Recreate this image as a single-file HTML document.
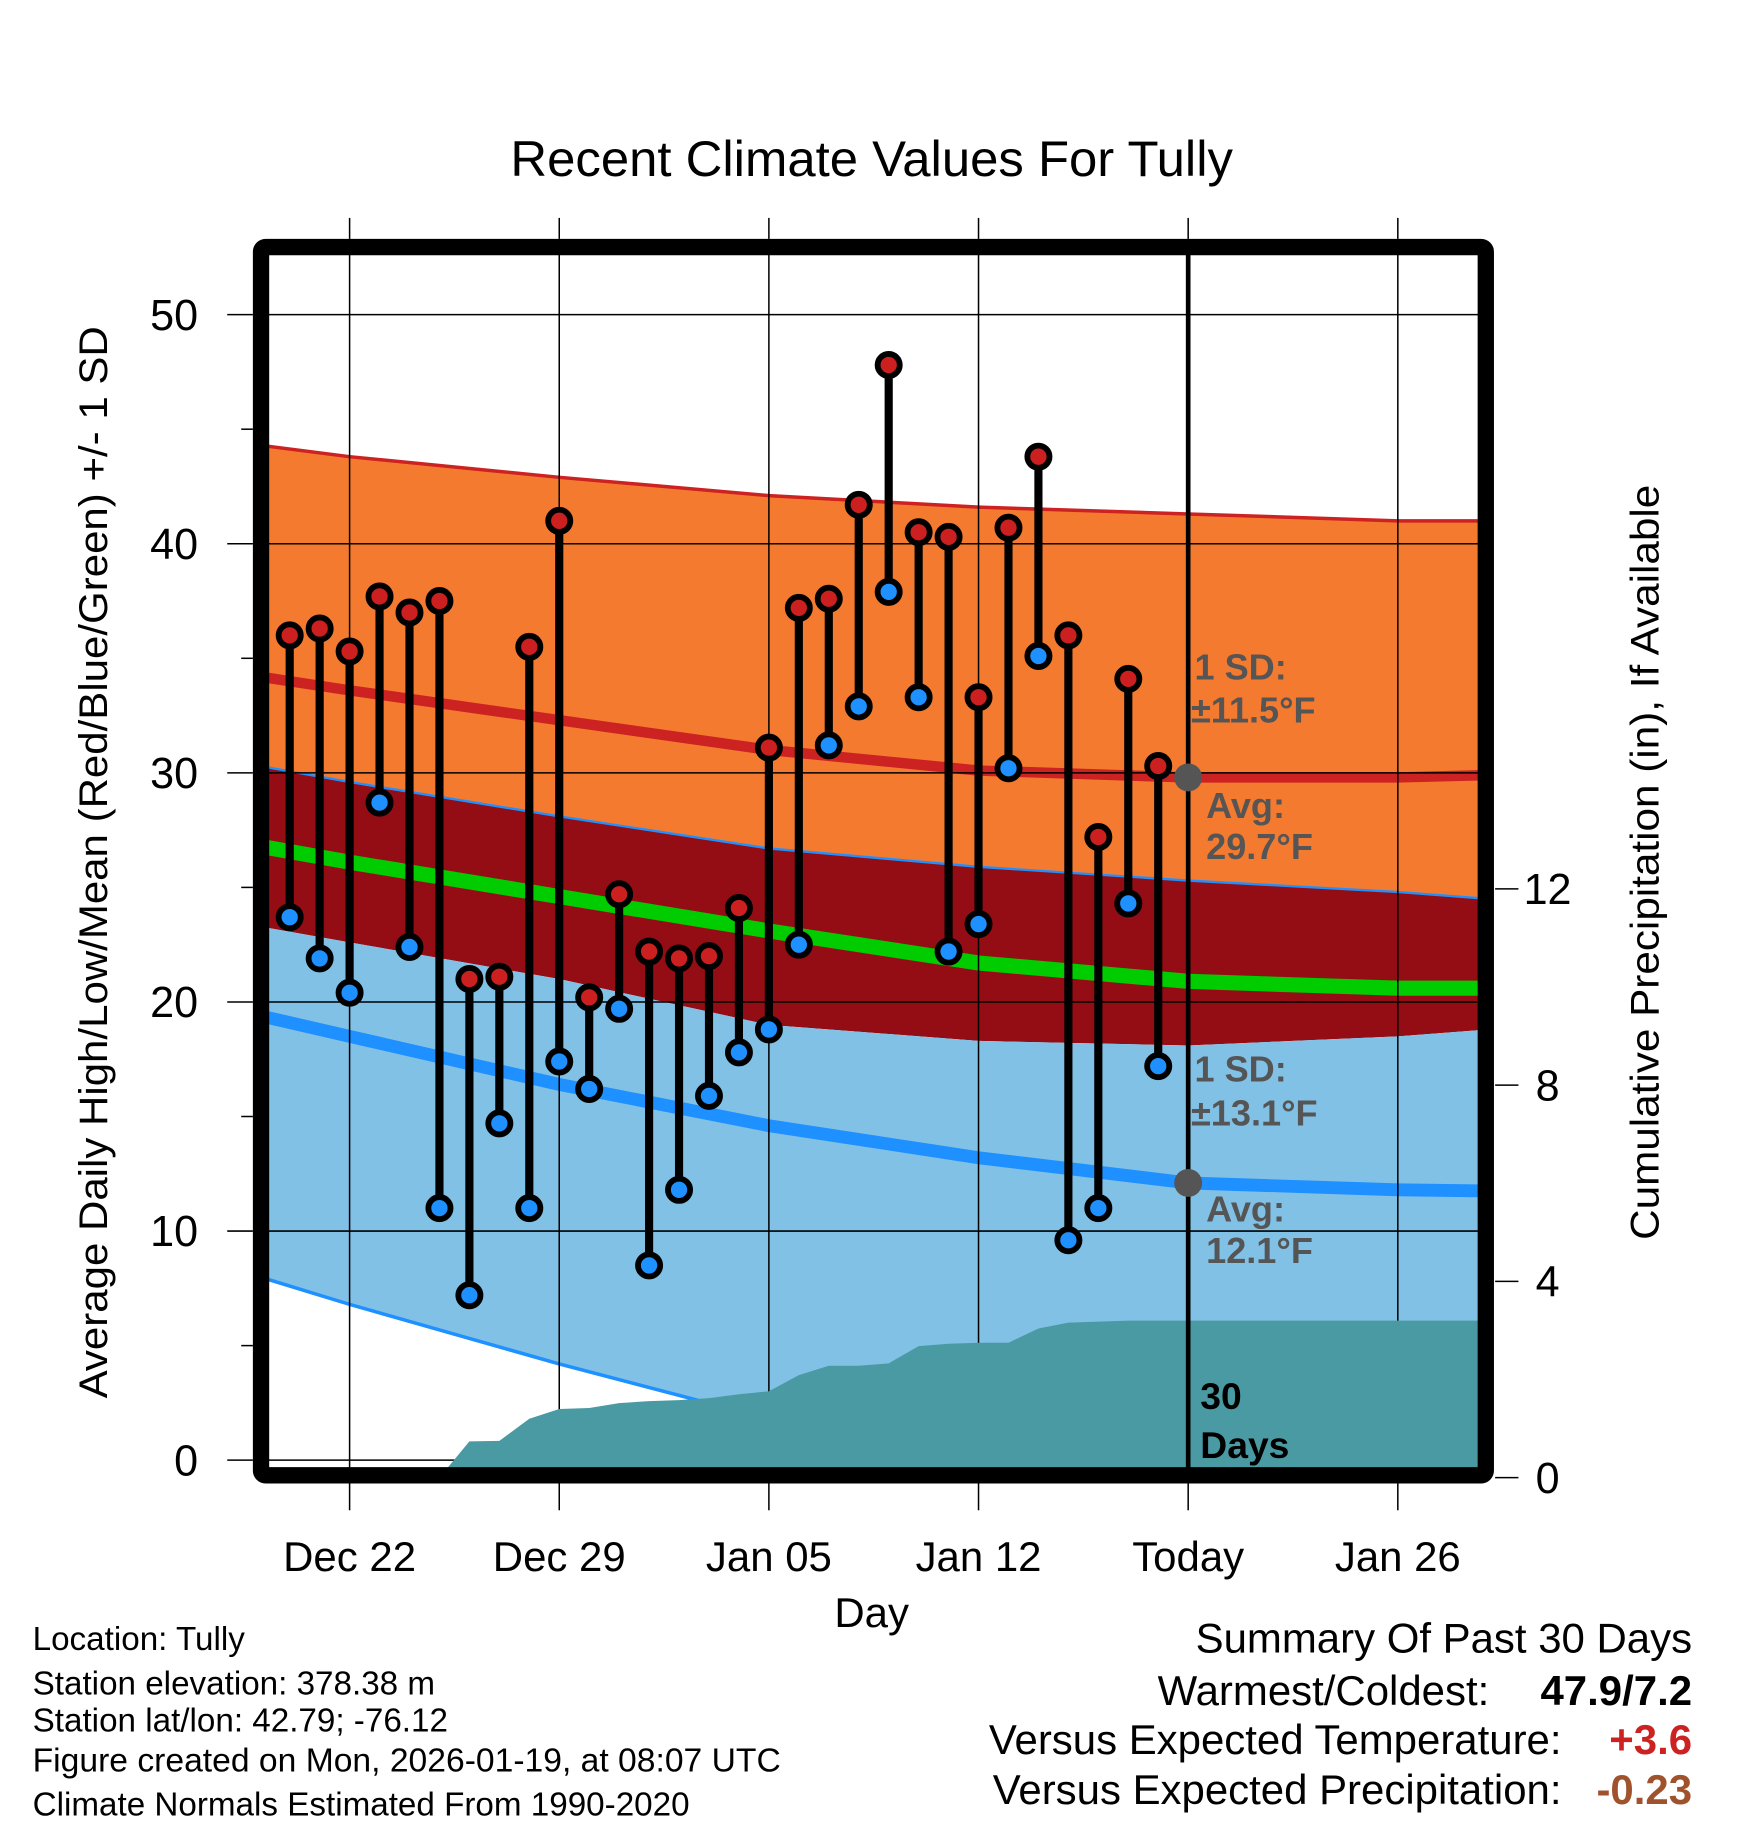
<!DOCTYPE html>
<html><head><meta charset="utf-8"><style>
html,body{margin:0;padding:0;background:#fff;}
svg{display:block;font-family:"Liberation Sans",sans-serif;}
</style></head><body>
<svg id="chart" width="1748" height="1828" viewBox="0 0 1500 1568.65" xmlns="http://www.w3.org/2000/svg">
<defs><clipPath id="plotclip"><rect x="224" y="212" width="1051" height="1054"/></clipPath></defs>
<text x="748" y="151" font-size="43" text-anchor="middle" textLength="620" lengthAdjust="spacingAndGlyphs">Recent Climate Values For Tully</text>
<g id="plot" clip-path="url(#plotclip)"></g>
<g id="axes"></g>
<text transform="translate(92,740) rotate(-90)" font-size="34" text-anchor="middle" textLength="920" lengthAdjust="spacingAndGlyphs">Average Daily High/Low/Mean (Red/Blue/Green) +/- 1 SD</text>
<text transform="translate(1423,740) rotate(-90)" font-size="34" text-anchor="middle" textLength="648" lengthAdjust="spacingAndGlyphs">Cumulative Precipitation (in), If Available</text>
<text x="748" y="1396" font-size="36" text-anchor="middle">Day</text>
<g font-size="31" font-weight="bold" fill="#555">
<text x="1025" y="583">1 SD:</text><text x="1022" y="620">±11.5°F</text>
<text x="1035" y="702">Avg:</text><text x="1035" y="737">29.7°F</text>
<text x="1025" y="928">1 SD:</text><text x="1022" y="966">±13.1°F</text>
<text x="1035" y="1048">Avg:</text><text x="1035" y="1084">12.1°F</text>
</g>
<g font-size="32" font-weight="bold" fill="#000">
<text x="1030" y="1209">30</text><text x="1030" y="1251">Days</text>
</g>
<g font-size="28.5">
<text x="28" y="1416">Location: Tully</text>
<text x="28" y="1454">Station elevation: 378.38 m</text>
<text x="28" y="1486">Station lat/lon: 42.79; -76.12</text>
<text x="28" y="1520" textLength="642" lengthAdjust="spacingAndGlyphs">Figure created on Mon, 2026-01-19, at 08:07 UTC</text>
<text x="28" y="1558">Climate Normals Estimated From 1990-2020</text>
</g>
<g font-size="36">
<text x="1452" y="1418" text-anchor="end">Summary Of Past 30 Days</text>
<text x="1278" y="1463" text-anchor="end">Warmest/Coldest:</text>
<text x="1452" y="1463" text-anchor="end" font-weight="bold">47.9/7.2</text>
<text x="1340" y="1505" text-anchor="end">Versus Expected Temperature:</text>
<text x="1452" y="1505" text-anchor="end" font-weight="bold" fill="#cc2222">+3.6</text>
<text x="1340" y="1548" text-anchor="end">Versus Expected Precipitation:</text>
<text x="1452" y="1548" text-anchor="end" font-weight="bold" fill="#a0522d">-0.23</text>
</g>
</svg>
<script>
// observed data, day index relative to Dec 22 (day 0); Today = day 28
const obsDays = [-2,-1,0,1,2,3,4,5,6,7,8,9,10,11,12,13,14,15,16,17,18,19,20,21,22,23,24,25,26,27];
const highs = [36.0,36.3,35.3,37.7,37.0,37.5,21.0,21.1,35.5,41.0,20.2,24.7,22.2,21.9,22.0,24.1,31.1,37.2,37.6,41.7,47.8,40.5,40.3,33.3,40.7,43.8,36.0,27.2,34.1,30.3];
const lows = [23.7,21.9,20.4,28.7,22.4,11.0,7.2,14.7,11.0,17.4,16.2,19.7,8.5,11.8,15.9,17.8,18.8,22.5,31.2,32.9,37.9,33.3,22.2,23.4,30.2,35.1,9.6,11.0,24.3,17.2];
const precip = [0,0,0,0,0,0,0.74,0.75,1.2,1.4,1.42,1.52,1.56,1.58,1.62,1.7,1.76,2.09,2.28,2.28,2.33,2.68,2.73,2.75,2.75,3.04,3.16,3.18,3.2,3.2];
// climate normals
const normDays = [-3,0,7,14,21,28,35,38];
const highPlusSD = [44.3,43.8,42.9,42.1,41.6,41.3,41.0,41.0];
const highMean = [34.2,33.6,32.3,31.0,30.1,29.8,29.8,29.9];
const highMinusSD = [30.3,29.6,28.1,26.7,25.9,25.3,24.8,24.5];
const meanTemp = [26.8,26.1,24.6,23.1,21.7,20.9,20.6,20.6];
const lowPlusSD = [23.3,22.6,21.0,19.0,18.3,18.1,18.5,18.8];
const lowMean = [19.4,18.5,16.4,14.6,13.2,12.1,11.8,11.75];
const lowMinusSD = [8.0,6.8,4.2,1.8,-0.3,-1.0,-1.4,-1.6];
const yTicks = [0,10,20,30,40,50];
const xTickDays = [0,7,14,21,28,35];
const xTickLabels = ["Dec 22","Dec 29","Jan 05","Jan 12","Today","Jan 26"];
const pTicks = [0,4,8,12];
const todayDay = 28;

const NS="http://www.w3.org/2000/svg";
const X = d => 300 + d*25.7;
const Y = v => 1253 - v*19.66;
const P = p => 1268 - p*42.1;
const plot=document.getElementById('plot'), axes=document.getElementById('axes');
function mk(parent,tag,attrs){const e=document.createElementNS(NS,tag);for(const k in attrs)e.setAttribute(k,attrs[k]);parent.appendChild(e);return e;}
function pts(arr){return normDays.map((d,i)=>X(d)+','+Y(arr[i]));}
function band(top,bot,fill,name){
  const p=pts(top).concat(pts(bot).reverse()).join(' ');
  const e=mk(plot,'polygon',{points:p,fill:fill});
  
  
}
function line(arr,color,w,name){
  const e=mk(plot,'polyline',{points:pts(arr).join(' '),fill:'none',stroke:color,'stroke-width':w});
  
  
}
band(highPlusSD,highMinusSD,'#f47a30','high-sd-band');
band(highMinusSD,lowPlusSD,'#940d14','overlap-band');
band(lowPlusSD,lowMinusSD,'#82c1e6','low-sd-band');
line(highPlusSD,'#cc2222',3,'high-plus-sd-line');
line(highMinusSD,'#1e90ff',2,'high-minus-sd-line');
line(lowMinusSD,'#1e90ff',3,'low-minus-sd-line');
line(highMean,'#cc2222',9,'high-mean-line');
line(meanTemp,'#00cc00',13,'mean-temp-line');
line(lowMean,'#1e90ff',11,'low-mean-line');
// grid
yTicks.forEach(v=>{const e=mk(plot,'line',{x1:224,x2:1275,y1:Y(v),y2:Y(v),stroke:'#000','stroke-width':1.3});

});
xTickDays.forEach(d=>{const e=mk(plot,'line',{x1:X(d),x2:X(d),y1:212,y2:1266,stroke:'#000','stroke-width':1.3});

});
// precip
{
  let s=[];
  s.push(X(obsDays[0])+','+P(0));
  obsDays.forEach((d,i)=>s.push(X(d)+','+P(precip[i])));
  s.push('1290,'+P(precip[precip.length-1]));
  s.push('1290,'+P(0));
  const e=mk(plot,'polygon',{points:s.join(' '),fill:'#4a9aa4'});
  
  
}
// today line
{const e=mk(plot,'line',{x1:X(todayDay),x2:X(todayDay),y1:212,y2:1266,stroke:'#000','stroke-width':4});

}
// avg dots
[highMean[5],lowMean[5]].forEach(v=>{const e=mk(plot,'circle',{cx:X(todayDay),cy:Y(v),r:12,fill:'#555'});

});
// stems and markers
obsDays.forEach((d,i)=>{
  const st=mk(plot,'line',{x1:X(d),x2:X(d),y1:Y(highs[i]),y2:Y(lows[i]),stroke:'#000','stroke-width':7});
  
  
});
obsDays.forEach((d,i)=>{
  const h=mk(plot,'circle',{cx:X(d),cy:Y(highs[i]),r:9.5,fill:'#cc2020',stroke:'#000','stroke-width':5});
  
  
  const l=mk(plot,'circle',{cx:X(d),cy:Y(lows[i]),r:9.5,fill:'#1e90ff',stroke:'#000','stroke-width':5});
  
  
});
// frame
{const e=mk(axes,'rect',{x:224,y:212,width:1051,height:1054,fill:'none',stroke:'#000','stroke-width':14,rx:4});

}
// left ticks
for(let v=0;v<=50;v+=5){
  const major=v%10===0;
  const e=mk(axes,'line',{x1:major?195:207,x2:217,y1:Y(v),y2:Y(v),stroke:'#000','stroke-width':1.3});
  
  
}
yTicks.forEach(v=>{const t=mk(axes,'text',{x:170,y:Y(v)+13,'font-size':37,'text-anchor':'end'});t.textContent=v;

});
// x ticks
xTickDays.forEach((d,i)=>{
  const a=mk(axes,'line',{x1:X(d),x2:X(d),y1:187,y2:205,stroke:'#000','stroke-width':1.3});
  
  
  const b=mk(axes,'line',{x1:X(d),x2:X(d),y1:1273,y2:1296,stroke:'#000','stroke-width':1.3});
  
  
  const t=mk(axes,'text',{x:X(d),y:1348,'font-size':36,'text-anchor':'middle'});t.textContent=xTickLabels[i];
  
  
});
// precip axis
pTicks.forEach(p=>{
  const a=mk(axes,'line',{x1:1283,x2:1303,y1:P(p),y2:P(p),stroke:'#000','stroke-width':1.3});
  
  
  const t=mk(axes,'text',{x:1328,y:P(p)+13,'font-size':37,'text-anchor':'middle'});t.textContent=p;
  
  
});
</script>
</body></html>
